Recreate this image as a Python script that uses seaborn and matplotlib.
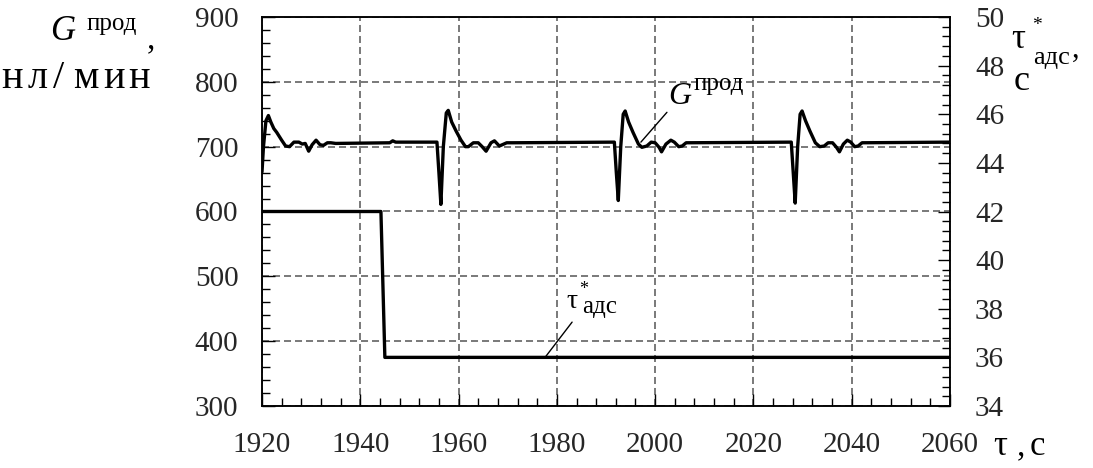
import matplotlib
matplotlib.use("Agg")
import matplotlib.pyplot as plt
from matplotlib.ticker import MultipleLocator
import pandas as pd
import seaborn as sns

# Product flow G (нл/мин) versus time, s
time_g = [1920.0, 1920.3, 1920.8, 1921.3, 1921.8, 1922.4, 1923.0, 1924.0, 1924.8,
          1925.6, 1926.5, 1927.5, 1928.2, 1928.8, 1929.5, 1930.2, 1931.0, 1931.8,
          1932.5, 1933.3, 1934.0, 1935.0, 1946.0, 1946.6, 1947.2,
          1955.6, 1956.0, 1956.4, 1956.9, 1957.5, 1957.9, 1958.6, 1959.5, 1960.5,
          1961.4, 1962.0, 1963.0, 1964.0, 1964.8, 1965.6, 1966.6, 1967.3, 1968.3,
          1969.2, 1969.8, 1971.0,
          1991.7, 1992.1, 1992.5, 1993.0, 1993.5, 1993.9, 1994.6, 1995.5, 1996.6,
          1997.3, 1998.3, 1999.2, 2000.0, 2000.8, 2001.3, 2002.2, 2003.2, 2003.9,
          2004.8, 2005.5, 2006.3,
          2027.7, 2028.1, 2028.5, 2029.0, 2029.5, 2029.9, 2030.6, 2031.5, 2032.6,
          2033.5, 2034.4, 2035.2, 2036.1, 2036.9, 2037.5, 2038.3, 2039.1, 2039.8,
          2040.6, 2041.3, 2042.1, 2060.0]
g_prod = [661, 700, 740, 748, 738, 728, 722, 710, 701,
          700, 707, 707, 704, 705, 693, 703, 710, 703,
          702, 706, 706, 705, 706, 709, 707,
          707, 660, 611, 700, 752, 756, 738, 724, 710,
          700, 700, 706, 706, 700, 693, 706, 709, 701,
          704, 706, 706,
          707, 660, 617, 700, 750, 755, 738, 722, 704,
          699, 701, 707, 706, 699, 692, 704, 710, 707,
          700, 701, 706,
          707, 660, 613, 700, 750, 755, 740, 724, 706,
          700, 701, 706, 706, 699, 692, 704, 710, 707,
          700, 701, 706, 707]

# Adsorption time tau* (s), stepped down during the run
time_tau = [1920.0, 1944.2, 1945.0, 2060.0]
tau_ads = [42, 42, 36, 36]

x_ticks = [1920, 1940, 1960, 1980, 2000, 2020, 2040, 2060]
g_ticks = [300, 400, 500, 600, 700, 800, 900]
tau_ticks = [34, 36, 38, 40, 42, 44, 46, 48, 50]

sns.set_style("ticks")
plt.rcParams["font.family"] = ["Liberation Serif", "DejaVu Serif"]
plt.rcParams["axes.linewidth"] = 1.1

W, H = 1093, 468
fig = plt.figure(figsize=(W / 100, H / 100), dpi=100)
ax = fig.add_axes([262 / W, 1 - 406 / H, (950 - 262) / W, (406 - 17) / H])
ax2 = ax.twinx()

df_g = pd.DataFrame({"t": time_g, "G": g_prod})
df_tau = pd.DataFrame({"t": time_tau, "tau": tau_ads})
sns.lineplot(data=df_g, x="t", y="G", ax=ax, color="black", lw=2.4,
             estimator=None, sort=False, zorder=3)
sns.lineplot(data=df_tau, x="t", y="tau", ax=ax2, color="black", lw=2.4,
             estimator=None, sort=False, zorder=3)

ax.set_xlim(1920, 2060)
ax.set_ylim(300, 900)
ax2.set_ylim(34, 50)
ax.set_xticks(x_ticks)
ax.set_yticks(g_ticks)
ax2.set_yticks(tau_ticks)
ax.xaxis.set_minor_locator(MultipleLocator(4))
ax.yaxis.set_minor_locator(MultipleLocator(20))
ax2.yaxis.set_minor_locator(MultipleLocator(0.4))
ax.set_xlabel("")
ax.set_ylabel("")
ax2.set_ylabel("")

ax.grid(True, which="major", color="#555555", lw=1.1, linestyle=(0, (4.6, 2.6)))
ax.set_axisbelow(True)

for a in (ax, ax2):
    for s in a.spines.values():
        s.set_visible(True)
        s.set_linewidth(1.1)
        s.set_color("black")
ax.tick_params(axis="x", which="both", direction="in", labelsize=21, pad=19,
               width=1.0, color="black")
ax.tick_params(axis="y", which="both", direction="in", labelsize=21, pad=17,
               width=1.0, color="black")
ax2.tick_params(axis="y", which="both", direction="in", labelsize=21, pad=18,
                width=1.0, color="black")
for a in (ax, ax2):
    a.tick_params(which="major", length=9)
    a.tick_params(which="minor", length=6)

# Leader lines from the curve labels to the curves
ax.annotate("", xy=(1997.1, 707), xytext=(2002.4, 753),
            arrowprops=dict(arrowstyle="-", lw=1.0, color="black",
                            shrinkA=0, shrinkB=0))
ax2.annotate("", xy=(1977.6, 36), xytext=(1983.1, 37.45),
             arrowprops=dict(arrowstyle="-", lw=1.0, color="black",
                             shrinkA=0, shrinkB=0))


def ftxt(x, y, s, size, **kw):
    kw.setdefault("va", "baseline")
    fig.text(x / W, 1 - y / H, s, fontsize=size, color="black", **kw)


# Curve labels inside the plot
ftxt(668, 104, "G", 23, style="italic")
ftxt(694, 90, "прод", 18)
ftxt(566, 308, "τ", 20)
ftxt(584, 294, "*", 13, ha="center")
ftxt(582, 313, "адс", 18)

# Left axis title
ftxt(50, 40, "G", 25, style="italic")
ftxt(87, 30, "прод", 18)
ftxt(147, 48, ",", 24)
for xc, ch in zip([12, 37.5, 59, 86, 114, 139], "нл/мин"):
    ftxt(xc, 88, ch, 29, ha="center")

# Right axis title
ftxt(1011, 48, "τ", 25)
ftxt(1037, 30, "*", 14, ha="center")
ftxt(1033, 64, "адс", 19)
ftxt(1072, 57, ",", 22)
ftxt(1014, 90, "с", 26)

# Time axis title
ftxt(993, 455, "τ", 25)
ftxt(1017, 455, ",", 24)
ftxt(1030, 455, "с", 25)

fig.savefig("out.png", dpi=100)
